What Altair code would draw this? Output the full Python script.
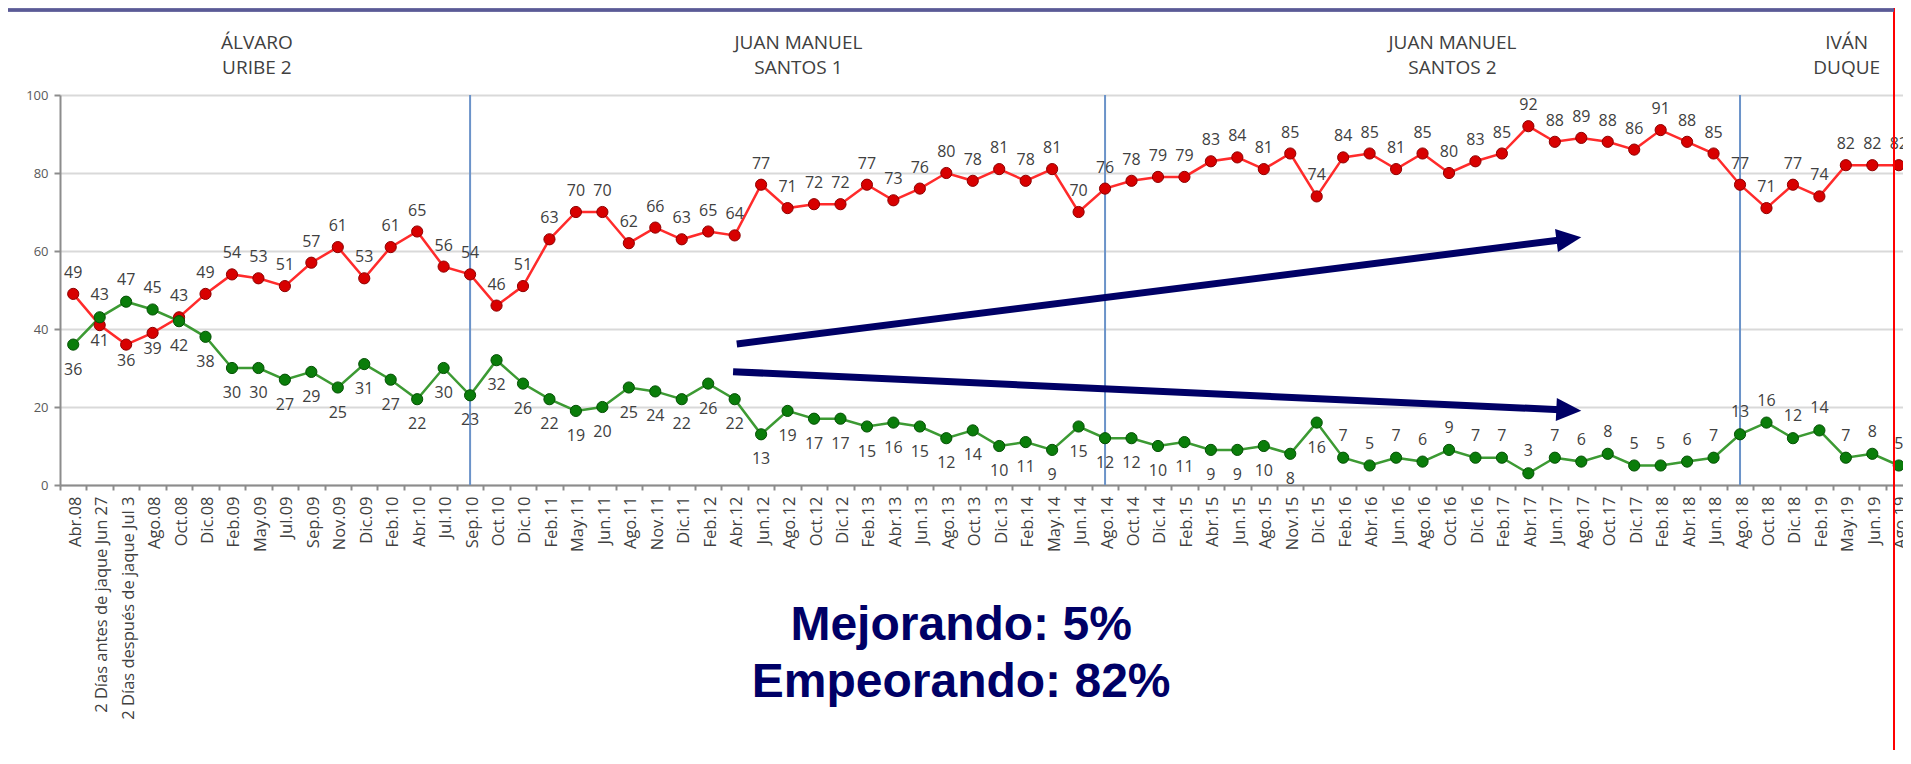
import math
import altair as alt
import pandas as pd

categories = [
    "Abr.08", "2 Días antes de jaque Jun 27", "2 Días después de jaque Jul 3", "Ago.08", "Oct.08",
    "Dic.08", "Feb.09", "May.09", "Jul.09", "Sep.09", "Nov.09", "Dic.09", "Feb.10", "Abr.10",
    "Jul.10", "Sep.10", "Oct.10", "Dic.10", "Feb.11", "May.11", "Jun.11", "Ago.11", "Nov.11",
    "Dic.11", "Feb.12", "Abr.12", "Jun.12", "Ago.12", "Oct.12", "Dic.12", "Feb.13", "Abr.13",
    "Jun.13", "Ago.13", "Oct.13", "Dic.13", "Feb.14", "May.14", "Jun.14", "Ago.14", "Oct.14",
    "Dic.14", "Feb.15", "Abr.15", "Jun.15", "Ago.15", "Nov.15", "Dic.15", "Feb.16", "Abr.16",
    "Jun.16", "Ago.16", "Oct.16", "Dic.16", "Feb.17", "Abr.17", "Jun.17", "Ago.17", "Oct.17",
    "Dic.17", "Feb.18", "Abr.18", "Jun.18", "Ago.18", "Oct.18", "Dic.18", "Feb.19", "May.19",
    "Jun.19", "Ago.19",
]

empeorando = [
    49, 41, 36, 39, 43, 49, 54, 53, 51, 57, 61, 53, 61, 65, 56, 54, 46, 51, 63, 70,
    70, 62, 66, 63, 65, 64, 77, 71, 72, 72, 77, 73, 76, 80, 78, 81, 78, 81, 70, 76,
    78, 79, 79, 83, 84, 81, 85, 74, 84, 85, 81, 85, 80, 83, 85, 92, 88, 89, 88, 86,
    91, 88, 85, 77, 71, 77, 74, 82, 82, 82,
]

mejorando = [
    36, 43, 47, 45, 42, 38, 30, 30, 27, 29, 25, 31, 27, 22, 30, 23, 32, 26, 22, 19,
    20, 25, 24, 22, 26, 22, 13, 19, 17, 17, 15, 16, 15, 12, 14, 10, 11, 9, 15, 12,
    12, 10, 11, 9, 9, 10, 8, 16, 7, 5, 7, 6, 9, 7, 7, 3, 7, 6, 8, 5,
    5, 6, 7, 13, 16, 12, 14, 7, 8, 5,
]

period_line1 = ["ÁLVARO", "JUAN MANUEL", "JUAN MANUEL", "IVÁN"]
period_line2 = ["URIBE 2", "SANTOS 1", "SANTOS 2", "DUQUE"]
period_center = [6.94, 27.41, 52.13, 67.03]
period_breaks = ["Sep.10", "Ago.14", "Ago.18"]
green_labels_above_from = "Feb.16"

arrow_start_x = [25.08, 24.94]
arrow_start_y = [36.15, 29.05]
arrow_tip_x = [57.0, 57.0]
arrow_tip_y = [63.5, 19.05]

summary_text = ["Mejorando: 5%", "Empeorando: 82%"]
summary_center = 33.56

# ---------------- layout ----------------
W, H = 1843, 390
X_DOMAIN = [-0.5, 69.16]
px_x = W / (X_DOMAIN[1] - X_DOMAIN[0])
px_y = H / 100.0

xscale = alt.Scale(domain=X_DOMAIN, nice=False, zero=False)
yscale = alt.Scale(domain=[0, 100], nice=False, zero=False)

RED_LINE, RED_DOT, RED_EDGE = "#ff2b2b", "#d80000", "#8e0000"
GREEN_LINE, GREEN_DOT, GREEN_EDGE = "#3c9a33", "#0a7d0a", "#045004"
TEXT = "#404040"
NAVY = "#000066"

n = len(categories)
above_from = categories.index(green_labels_above_from)
rows = []
for i in range(n):
    r, g = empeorando[i], mejorando[i]
    rows.append({"idx": i, "value": r, "series": "Empeorando",
                 "pos": "below" if r < g else "above"})
    rows.append({"idx": i, "value": g, "series": "Mejorando",
                 "pos": "above" if (g > r or i >= above_from) else "below"})
df = pd.DataFrame(rows)

label_js = "[" + ",".join("'" + c + "'" for c in categories) + "][datum.value]"

x_axis = alt.Axis(
    values=list(range(n)), labelExpr=label_js, labelAngle=270, labelAlign="right",
    labelBaseline="middle", labelFont="Open Sans", labelFontSize=16.5, labelColor=TEXT,
    labelPadding=6, labelOverlap=False, labelBound=False, labelFlush=False, labelLimit=0,
    tickOffset=-px_x / 2, labelOffset=px_x / 2 + 2, tickSize=5, tickColor="#8c8c8c",
    tickWidth=2, domainColor="#8c8c8c", domainWidth=2, grid=False, title=None,
)
y_axis = alt.Axis(
    values=[0, 20, 40, 60, 80, 100], labelFont="Open Sans", labelFontSize=13,
    labelColor="#595959", labelPadding=6, tickSize=6, tickColor="#8c8c8c", tickWidth=2,
    domainColor="#8c8c8c", domainWidth=2, grid=True, gridColor="#d9d9d9", gridWidth=2,
    title=None,
)

def X(field):
    return alt.X(field, type="quantitative", scale=xscale, axis=x_axis)

def Y(field):
    return alt.Y(field, type="quantitative", scale=yscale, axis=y_axis)

base = alt.Chart(df)

# period separators
df_breaks = pd.DataFrame({"idx": [categories.index(c) for c in period_breaks]})
breaks = alt.Chart(df_breaks).mark_rule(color="#6b93c9", strokeWidth=2).encode(
    x=X("idx"), y=alt.value(0), y2=alt.value(H)
)

layers = []
series_style = {
    "Empeorando": (RED_LINE, RED_DOT, RED_EDGE),
    "Mejorando": (GREEN_LINE, GREEN_DOT, GREEN_EDGE),
}
for s, (lc, dc, ec) in series_style.items():
    sb = base.transform_filter(alt.datum.series == s)
    layers.append(sb.mark_line(color=lc, strokeWidth=2.5).encode(
        x=X("idx"), y=Y("value")))
layers.append(breaks)
for s, (lc, dc, ec) in series_style.items():
    sb = base.transform_filter(alt.datum.series == s)
    layers.append(sb.mark_circle(size=125, color=dc, opacity=1, stroke=ec, strokeWidth=1).encode(
        x=X("idx"), y=Y("value")))

lab_specs = [
    ("Empeorando", "above", -21),
    ("Empeorando", "below", 16),
    ("Mejorando", "above", -22),
    ("Mejorando", "below", 25),
]
for s, p, dy in lab_specs:
    layers.append(
        base.transform_filter((alt.datum.series == s) & (alt.datum.pos == p))
        .mark_text(font="Open Sans", fontSize=16, color=TEXT, dy=dy, baseline="middle")
        .encode(x=X("idx"), y=Y("value"), text=alt.Text("value:Q"))
    )

# arrows
arows = []
for sx, sy, tx, ty in zip(arrow_start_x, arrow_start_y, arrow_tip_x, arrow_tip_y):
    dxp = (tx - sx) * px_x
    dyp = -(ty - sy) * px_y
    ang = math.degrees(math.atan2(dyp, dxp)) % 360
    f = 0.975
    arows.append({"x0": sx, "y0": sy, "x1": sx + f * (tx - sx), "y1": sy + f * (ty - sy),
                  "tx": tx, "ty": ty, "angle": ang})
df_arr = pd.DataFrame(arows)
arrow_lines = alt.Chart(df_arr).mark_rule(color=NAVY, strokeWidth=7, strokeCap="butt").encode(
    x=X("x0"), y=Y("y0"), x2="x1:Q", y2="y1:Q")
arrow_heads = alt.Chart(df_arr).mark_point(
    shape="M0,0L-2,-0.92L-2,0.92Z", size=625, filled=True, color=NAVY, opacity=1, strokeWidth=0
).encode(x=X("tx"), y=Y("ty"), angle=alt.Angle("angle:Q", scale=None))
layers += [arrow_lines, arrow_heads]

# period titles
df_per = pd.DataFrame({"x": period_center, "l1": period_line1, "l2": period_line2})
per1 = alt.Chart(df_per).mark_text(font="Open Sans", fontSize=19, color=TEXT, baseline="middle").encode(
    x=X("x"), y=alt.value(-52), text="l1:N")
per2 = alt.Chart(df_per).mark_text(font="Open Sans", fontSize=19, color=TEXT, baseline="middle").encode(
    x=X("x"), y=alt.value(-27), text="l2:N")
layers += [per1, per2]

# summary text
df_sum = pd.DataFrame({"x": [summary_center] * 2, "t": summary_text, "row": [0, 1]})
for r, yy in [(0, 545), (1, 602)]:
    layers.append(
        alt.Chart(df_sum).transform_filter(alt.datum.row == r)
        .mark_text(font="Liberation Sans", fontWeight="bold", fontSize=48, color=NAVY,
                   baseline="alphabetic", align="center")
        .encode(x=X("x"), y=alt.value(yy), text="t:N")
    )

# slide frame artifacts
frame_red = alt.Chart(df_breaks).mark_rule(color="#ff0000", strokeWidth=2).encode(
    x=alt.value(1834), y=alt.value(-87), y2=alt.value(H + 265))
frame_top = alt.Chart(df_breaks).mark_rule(color="#5a5a96", strokeWidth=3).encode(
    x=alt.value(-52), x2=alt.value(1834), y=alt.value(-85))
layers += [frame_red, frame_top]

chart = alt.layer(*layers).properties(
    width=W, height=H,
    padding={"left": 52, "top": 87, "right": 0, "bottom": 265},
    autosize=alt.AutoSizeParams(type="none"),
    background="white",
).configure_view(stroke=None)

chart.save("out.html", embed_options={"renderer": "svg", "actions": False})
